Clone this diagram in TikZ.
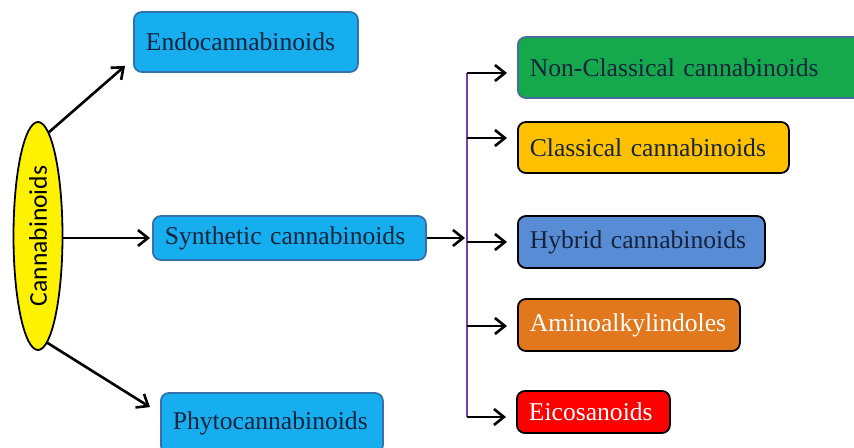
\documentclass[tikz,border=0pt]{standalone}
\usepackage{fontspec}
\setmainfont{Liberation Serif}
\newfontfamily\cannfont{Carlito}
\usetikzlibrary{positioning, arrows.meta, shapes.geometric}
\definecolor{cyanfill}{RGB}{22,174,238}
\definecolor{cyanedge}{RGB}{52,112,170}
\definecolor{navytext}{RGB}{20,36,60}
\definecolor{greenfill}{RGB}{22,168,76}
\definecolor{greenedge}{RGB}{70,110,150}
\definecolor{goldfill}{RGB}{255,192,0}
\definecolor{hybfill}{RGB}{88,140,212}
\definecolor{orangefill}{RGB}{226,120,30}
\definecolor{spinecol}{RGB}{120,60,180}

\begin{document}
\begin{tikzpicture}[x=0.5pt, y=-0.5pt,
  every node/.style={font=\fontsize{12.8}{15}\selectfont},
  box/.style={draw, rounded corners=4pt, line width=0.9pt, anchor=west,
    inner xsep=6pt, align=left},
  bluebox/.style={box, fill=cyanfill, draw=cyanedge, text=navytext},
  arr/.style={-{Straight Barb[length=5pt,width=8pt,line width=1.3pt]}, line width=1.3pt}]
\useasboundingbox (0,0) rectangle (854,448);
\node[ellipse, draw, fill=yellow, line width=0.9pt, minimum width=24.5pt,
  minimum height=114pt, inner sep=0pt] at (38,236) (cann)
  {\rotatebox{90}{\cannfont Cannabinoids}};
\node[bluebox, text width=100pt, minimum height=30pt] at (133,42) (endo) {Endocannabinoids};
\node[bluebox, text width=124.5pt, minimum height=22pt] at (152,238) (synth) {Synthetic cannabinoids};
\node[bluebox, text width=99pt, minimum height=30pt] at (160,423) (phyto) {Phytocannabinoids};
\node[box, fill=greenfill, draw=greenedge, text=navytext, text width=164.5pt,
  minimum height=30.5pt] at (517,67.5) (ncl) {Non-Classical cannabinoids};
\node[box, fill=goldfill, text=navytext, text width=123.5pt, minimum height=25.5pt]
  at (517,147.5) (cls) {Classical cannabinoids};
\node[box, fill=hybfill, text=navytext, text width=111.5pt, minimum height=26pt]
  at (517,242) (hyb) {Hybrid cannabinoids};
\node[box, fill=orangefill, text=white, text width=99pt, minimum height=26pt]
  at (517,325) (amino) {Aminoalkylindoles};
\node[box, fill=red, text=white, text width=64.5pt, minimum height=21pt]
  at (516,412) (eico) {Eicosanoids};
% spine of the synthetic branch
\coordinate (j1) at (467,73);
\coordinate (j2) at (467,138);
\coordinate (j3) at (467,242);
\coordinate (j4) at (467,326);
\coordinate (j5) at (467,417);
\draw[spinecol, line width=1pt] (j1) -- (j5);
% arrows from the ellipse
\draw[arr] (cann.84) -- ([xshift=-4pt, yshift=3.5pt]endo.south west);
\draw[arr, shorten >=1pt] (cann.east |- synth.west) -- (synth.west);
\draw[arr] (cann.-85) -- ([xshift=-5pt, yshift=-7.5pt]phyto.north west);
\draw[arr, shorten >=1pt] (synth.east) -- (synth.east -| j1);
\draw[arr, shorten >=5pt] (j1) -- (j1 -| ncl.west);
\draw[arr, shorten >=5pt] (j2) -- (j2 -| cls.west);
\draw[arr, shorten >=5pt] (j3) -- (j3 -| hyb.west);
\draw[arr, shorten >=5pt] (j4) -- (j4 -| amino.west);
\draw[arr, shorten >=5pt] (j5) -- (j5 -| eico.west);
\end{tikzpicture}
\end{document}
